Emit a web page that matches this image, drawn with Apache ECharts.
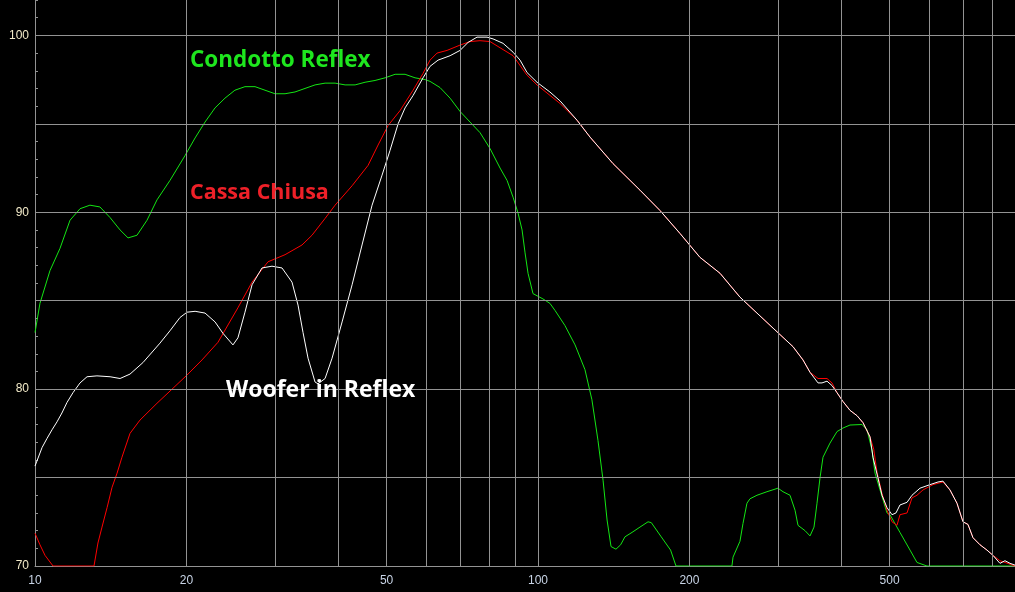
<!DOCTYPE html>
<html>
<head>
<meta charset="utf-8">
<script src="https://cdn.jsdelivr.net/npm/echarts@6/dist/echarts.min.js"></script>
<style>
html,body{margin:0;padding:0;background:#000;}
#chart{width:1015px;height:592px;}
</style>
</head>
<body>
<div id="chart"></div>
<script>
// ---- data (frequency in Hz, level in dB) ----
const greenFreq = [10,10.23,10.71,11.21,11.74,12.29,12.86,13.46,14.10,14.76,15.31,15.95,16.70,17.48,18.55,19.87,20.81,21.78,22.80,23.86,24.97,26.15,27.38,28.66,30.00,31.41,32.88,34.42,36.04,37.73,39.50,41.35,43.29,45.31,47.43,49.66,51.99,54.42,56.96,59.63,61.01,63.86,66.87,69.99,73.27,76.70,80.30,84.06,86.80,89.22,91.28,92.97,94.26,95.55,97.74,102.3,105.6,108.1,113.1,118.5,124.0,128.0,131.6,134.7,137.2,139.7,142.9,146.0,148.9,153.8,159.5,165.5,168.0,175.8,183.5,188.1,243.0,244.2,252.1,255.6,260.3,263.9,272.5,285.3,300.0,307.0,317.0,324.4,328.8,339.5,347.4,353.8,358.7,363.7,368.7,380.7,393.1,404.0,417.2,440.8,451.0,461.4,467.8,478.6,494.2,501.0,512.5,524.4,549.1,566.9,593.5,887.9];
const greenDb   = [83.2,84.85,86.7,87.95,89.55,90.2,90.4,90.3,89.7,89.0,88.55,88.7,89.55,90.7,91.8,93.2,94.2,95.1,95.9,96.45,96.9,97.1,97.1,96.9,96.7,96.7,96.8,97.0,97.2,97.3,97.3,97.2,97.2,97.35,97.45,97.6,97.8,97.8,97.6,97.5,97.4,97.05,96.45,95.7,95.1,94.5,93.6,92.5,91.8,90.85,89.95,89.0,87.7,86.55,85.4,85.1,84.85,84.45,83.6,82.5,81.1,79.4,77.1,74.85,72.6,71.1,70.95,71.2,71.65,71.9,72.2,72.5,72.45,71.65,70.9,70,70,70.5,71.4,72.4,73.55,73.8,74.0,74.2,74.4,74.2,74.0,73.15,72.3,72.0,71.7,72.2,73.55,75.0,76.15,76.95,77.6,77.8,77.97,78.0,77.7,76.55,75.25,74.3,73.0,72.9,72.4,71.9,70.9,70.2,70,70];

const redFreq = [10,10.23,10.47,10.86,13.10,13.34,13.59,13.91,14.23,14.56,14.89,15.45,16.17,17.48,18.81,20.06,21.48,23.11,25.32,27.01,29.06,31.41,33.95,35.54,37.73,39.50,42.70,45.94,48.09,50.34,53.19,56.45,59.09,61.01,63.00,65.95,69.99,73.27,76.70,80.30,84.06,89.22,95.11,99.54,110.6,119.6,126.9,141.0,159.5,174.8,191.6,209.9,230.1,252.1,272.5,293.3,321.4,336.4,347.4,360.4,375.5,384.2,393.1,404.0,417.2,430.8,442.8,457.2,465.0,472.1,483.0,494.2,505.6,517.3,524.4,541.6,554.1,566.9,582.7,610.0,638.5,659.3,680.8,699.8,715.9,732.5,756.4,781.0,802.8,828.9,868.0,887.9];
const redDb   = [71.85,71.2,70.6,70,70,71.3,72.2,73.3,74.45,75.25,76.15,77.5,78.25,79.2,80.05,80.8,81.65,82.65,84.6,86.05,87.2,87.6,88.15,88.7,89.65,90.4,91.5,92.65,93.8,94.9,95.75,96.9,97.85,98.6,99.0,99.15,99.45,99.65,99.7,99.65,99.3,98.85,97.75,97.2,96.15,95.2,94.25,92.75,91.25,90.1,88.8,87.45,86.55,85.2,84.3,83.45,82.4,81.65,80.95,80.6,80.6,80.35,79.8,79.3,78.8,78.5,78.1,77.3,76.6,75.3,74.1,73.15,72.5,72.3,72.9,73.0,73.85,74.0,74.3,74.6,74.75,74.3,73.55,72.5,72.35,71.6,71.2,70.9,70.6,70.3,70.1,70.0];

const whiteFreq = [10,10.33,10.56,10.81,11.06,11.31,11.58,11.90,12.29,12.69,13.28,14.10,14.76,15.45,16.39,17.72,18.55,19.42,20.06,20.81,21.78,22.80,23.65,24.75,25.32,26.15,27.01,28.27,29.59,30.98,32.43,33.34,34.11,34.90,36.04,36.54,37.73,38.96,40.79,42.70,44.69,46.79,48.98,50.80,52.71,54.42,56.45,59.09,61.01,63.29,66.87,69.99,72.60,75.65,79.20,81.41,85.22,89.22,92.12,95.11,99.54,105.6,110.6,119.6,126.9,141.0,159.5,174.8,191.6,209.9,230.1,252.1,272.5,293.3,321.4,336.4,347.4,360.4,367.0,375.5,384.2,393.1,404.0,417.2,430.8,442.8,457.2,463.5,472.1,483.0,494.2,505.6,514.9,524.4,541.6,554.1,574.8,601.7,624.1,638.5,659.3,680.8,699.8,715.9,732.5,756.4,781.0,802.8,828.9,848.1,868.0,887.9];
const whiteDb   = [75.65,76.7,77.2,77.7,78.15,78.65,79.25,79.8,80.35,80.7,80.75,80.7,80.6,80.85,81.5,82.6,83.3,84.05,84.35,84.4,84.3,83.8,83.15,82.5,82.9,84.35,85.9,86.85,86.95,86.85,86.05,84.75,83.2,81.75,80.4,80.3,80.6,81.75,83.8,85.9,88.15,90.4,92.1,93.5,95.0,95.9,96.6,97.6,98.25,98.6,98.85,99.15,99.6,99.9,99.9,99.8,99.55,99.05,98.6,97.9,97.35,96.8,96.3,95.2,94.25,92.75,91.25,90.1,88.8,87.45,86.55,85.2,84.3,83.45,82.4,81.65,80.95,80.35,80.35,80.45,80.2,79.8,79.3,78.8,78.5,78.1,77.3,76.15,75.2,74.0,73.3,72.9,73.0,73.45,73.6,74.0,74.4,74.6,74.75,74.8,74.3,73.55,72.5,72.35,71.6,71.2,70.9,70.6,70.15,70.3,70.15,70.05];

const xLabelValues = [10,20,50,100,200,500];
const xGridValues  = [20,30,40,50,60,70,80,90,100,200,300,400,500,600,700,800];
const yGridValues  = [75,80,85,90,95,100];
const seriesNames  = ['Condotto Reflex','Cassa Chiusa','Woofer in Reflex'];

// ---- build ----
function pairs(fs, ds){ return fs.map((f,i)=>[f, ds[i]]); }
const gridColor = '#939393';

const chart = echarts.init(document.getElementById('chart'), null, {renderer:'canvas'});
chart.setOption({
  backgroundColor:'#000000',
  animation:false,
  grid:{left:35, right:0, top:0, bottom:26},
  xAxis:{
    type:'log', logBase:10, min:10, max:887.9,
    axisLine:{show:true, lineStyle:{color:gridColor, width:1}},
    axisTick:{show:false},
    splitLine:{show:false},
    minorTick:{show:false},
    axisLabel:{
      customValues: xLabelValues,
      color:'#c8d4e6', fontFamily:'Liberation Sans', fontSize:12, margin:9,
      formatter: v => String(Math.round(v))
    }
  },
  yAxis:{
    type:'value', min:70, max:102, interval:1,
    axisLine:{show:true, lineStyle:{color:gridColor, width:1}},
    axisTick:{show:true, inside:true, length:3, lineStyle:{color:gridColor}},
    splitLine:{show:false},
    axisLabel:{
      color:'#f2eac8', fontFamily:'Liberation Sans', fontSize:12, margin:6,
      formatter: v => (v % 10 === 0 && v <= 100) ? String(v) : ''
    }
  },
  series:[
    {
      type:'line', name:'grid', data:[], silent:true, z:1,
      markLine:{
        silent:true, symbol:'none', animation:false,
        label:{show:false},
        lineStyle:{color:gridColor, type:'solid', width:1},
        emphasis:{disabled:true},
        data: xGridValues.map(v=>({xAxis:v})).concat(yGridValues.map(v=>({yAxis:v})))
      }
    },
    {
      type:'line', name:seriesNames[0], data:pairs(greenFreq, greenDb), z:3,
      showSymbol:false, symbol:'none', lineStyle:{color:'#14e614', width:1}, itemStyle:{color:'#14e614'}
    },
    {
      type:'line', name:seriesNames[1], data:pairs(redFreq, redDb), z:3,
      showSymbol:false, symbol:'none', lineStyle:{color:'#ff0000', width:1}, itemStyle:{color:'#ff0000'}
    },
    {
      type:'line', name:seriesNames[2], data:pairs(whiteFreq, whiteDb), z:3,
      showSymbol:false, symbol:'none', lineStyle:{color:'#ffffff', width:1}, itemStyle:{color:'#ffffff'}
    }
  ],
  graphic:[
    {type:'text', x:190, y:61, z:10, style:{text:seriesNames[0], fill:'#1ee61e', font:'bold 22.5px "Open Sans"', verticalAlign:'middle', align:'left'}},
    {type:'text', x:190, y:193, z:10, style:{text:seriesNames[1], fill:'#ee2028', font:'bold 21.5px "Open Sans"', verticalAlign:'middle', align:'left'}},
    {type:'text', x:226, y:390, z:10, style:{text:seriesNames[2], fill:'#ffffff', font:'bold 23px "Open Sans"', verticalAlign:'middle', align:'left'}}
  ]
});
</script>
</body>
</html>
